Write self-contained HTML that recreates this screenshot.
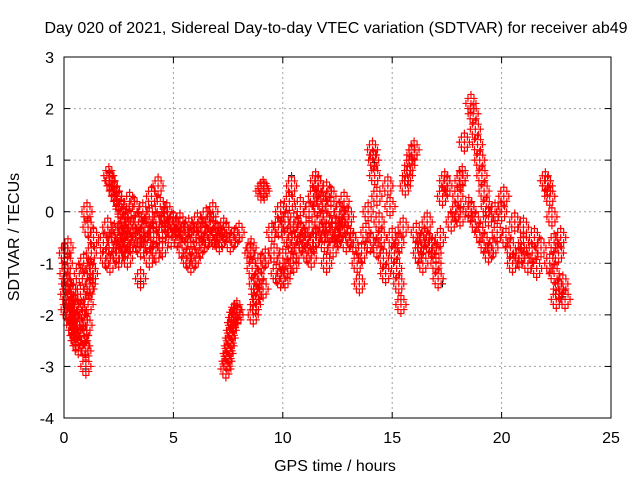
<!DOCTYPE html>
<html><head><meta charset="utf-8"><style>
html,body{margin:0;padding:0;background:#fff;}
svg{display:block;font-family:"Liberation Sans",sans-serif;}
</style></head><body>
<svg id="chart" width="640" height="480">
<text x="336" y="33" font-size="16" text-anchor="middle" fill="#000">Day 020 of 2021, Sidereal Day-to-day VTEC variation (SDTVAR) for receiver ab49</text>
<text x="335" y="471" font-size="16" text-anchor="middle">GPS time / hours</text>
<text transform="translate(19,237) rotate(-90)" font-size="16" text-anchor="middle">SDTVAR / TECUs</text>
<g id="grid"></g>
<g id="ticks"></g>
<g id="marks"></g>
<rect x="64" y="57" width="547" height="361" fill="none" stroke="#000" stroke-width="1"/>
</svg>
<script>
const xTicks=[0,5,10,15,20,25];
const yTicks=[3,2,1,0,-1,-2,-3,-4];
const times=[0.02,0.05,0.08,0.1,0.12,0.15,0.18,0.2,0.25,0.3,0.35,0.4,0.45,0.5,0.55,0.6,0.65,0.3,0.4,0.5,0.6,0.7,0.75,0.8,0.85,0.9,0.95,1.0,1.05,1.1,1.0,1.15,1.2,1.25,1.3,1.35,1.1,1.05,1.2,0.9,
1.8,1.9,2.0,2.05,2.1,2.2,2.3,2.4,2.5,2.6,2.7,2.8,2.9,2.2,2.4,2.6,2.8,3.0,2.1,2.3,2.5,2.7,2.9,3.0,
3.1,3.2,3.3,3.4,3.5,3.5,3.6,3.7,3.8,3.9,4.0,4.1,4.2,4.3,4.4,4.5,4.6,4.7,4.8,4.9,5.0,4.2,4.5,3.9,
5.1,5.3,5.5,5.7,5.9,6.1,6.3,6.5,6.7,6.8,5.2,5.4,5.6,5.8,6.0,6.2,6.4,6.6,6.8,7.0,7.2,7.4,7.6,7.8,8.0,7.3,7.1,
7.4,7.45,7.5,7.55,7.6,7.65,7.7,7.75,7.8,7.9,7.95,
8.5,8.6,8.7,8.8,8.9,9.0,9.1,8.65,8.75,8.55,9.0,9.1,9.15,9.2,
9.5,9.6,9.7,9.8,9.9,10.0,10.1,10.2,10.3,10.4,10.5,10.6,10.7,10.8,10.9,10.2,9.9,10.5,
11.0,11.2,11.4,11.6,11.8,12.0,12.2,12.4,12.6,12.8,13.0,11.1,11.3,11.5,11.7,11.9,12.1,12.3,12.5,12.7,12.9,11.5,12.0,
13.2,13.4,13.5,13.6,13.8,14.0,14.1,14.15,14.2,14.3,14.4,14.5,14.6,14.7,14.8,14.9,15.0,14.3,13.9,
15.1,15.2,15.3,15.4,15.3,15.5,15.6,15.7,15.8,15.9,16.0,16.1,16.2,16.3,16.4,16.5,16.6,16.8,17.0,17.1,17.2,17.3,17.4,17.5,
17.7,17.9,18.0,18.1,18.2,18.1,18.3,18.5,18.6,18.7,18.8,18.9,19.0,19.1,19.2,19.3,19.4,18.6,18.8,19.0,19.2,19.4,19.6,19.8,20.0,20.1,19.7,
20.2,20.4,20.6,20.8,21.0,21.2,21.4,21.6,21.8,22.0,22.1,22.2,22.3,22.4,22.5,22.6,22.7,22.8,22.9,22.6,22.4,22.2,20.5,21.0,
3.3,3.7,4.1,4.6,5.3,5.8,6.3,6.9,10.1,10.4,10.8,11.2,11.6,12.0,12.4,12.8,13.1,11.4,11.8,12.2,12.6,2.5,2.9,3.5,16.7,17.0,20.9,21.5];
const values=[-0.8,-1.2,-1.6,-1.9,-1.4,-1.0,-0.7,-1.7,-1.9,-2.0,-2.2,-2.1,-2.3,-2.4,-2.5,-2.3,-2.6,-1.5,-1.6,-1.8,-1.9,-1.2,-1.6,-1.9,-2.1,-2.4,-2.6,-2.7,-2.2,-1.8,-3.0,-1.5,-1.1,-0.8,-1.2,-0.5,-0.3,0.0,-1.4,-1.0,
-0.6,-0.9,-0.3,0.7,0.6,0.5,0.4,0.3,0.2,0.05,-0.1,-0.2,-0.3,-0.6,-0.8,-0.5,-0.7,-0.6,-1.0,-0.4,-0.9,-0.6,-0.9,0.2,
-0.3,0.1,-0.5,-0.2,-0.7,-1.3,0.0,-0.4,-0.6,-0.1,0.3,-0.5,-0.2,0.5,0.1,-0.4,-0.1,0.0,-0.3,-0.5,-0.2,-0.8,-0.7,-0.9,
-0.3,-0.2,-0.4,-0.3,-0.4,-0.2,-0.3,-0.1,-0.2,0.0,-0.5,-0.7,-0.9,-1.0,-0.9,-0.7,-0.6,-0.5,-0.5,-0.4,-0.5,-0.4,-0.6,-0.5,-0.4,-0.3,-0.6,
-3.05,-2.9,-2.75,-2.6,-2.45,-2.3,-2.15,-2.05,-1.95,-1.9,-2.0,
-0.8,-1.1,-1.4,-1.6,-1.3,-1.0,-1.5,-2.0,-1.8,-0.7,0.4,0.45,0.4,-0.9,
-0.4,-0.8,-1.2,-0.3,0.0,-0.9,-1.3,-0.5,0.2,0.5,-0.2,-0.8,-0.3,0.1,-0.6,-1.1,-1.3,-1.0,
-0.5,0.0,0.3,0.5,0.2,0.4,0.1,-0.3,0.0,0.2,-0.1,-0.8,-0.9,-0.5,-0.2,-0.6,-0.4,-0.7,-0.5,-0.3,-0.6,0.6,-1.0,
-0.6,-1.0,-1.4,-0.8,-0.4,-0.6,1.2,1.0,0.7,0.3,-0.2,-0.5,-0.9,-1.2,0.5,0.1,-0.5,-0.7,0.0,
-0.8,-1.1,-1.4,-1.8,-0.6,-0.3,0.5,0.7,0.9,1.1,1.2,-0.4,-0.8,-0.6,-1.0,-0.5,-0.2,-0.7,-1.0,-1.3,-0.5,0.3,0.6,0.5,
-0.2,0.0,0.3,0.6,0.7,-0.1,1.35,0.1,2.1,1.9,1.6,1.3,1.0,0.7,0.4,0.1,-0.1,0.0,-0.2,-0.4,-0.6,-0.8,-0.7,-0.4,0.0,0.3,0.0,
-0.5,-0.7,-0.2,-0.9,-0.6,-1.0,-0.8,-1.1,-0.7,0.6,0.5,0.3,-0.1,-1.2,-1.7,-0.8,-0.5,-1.4,-1.7,-1.5,-0.6,-1.0,-1.0,-0.3,
-0.6,-0.3,-0.4,-0.2,-0.3,-0.5,-0.4,-0.5,-0.2,-0.6,-0.4,-0.3,0.1,-0.2,-0.4,-0.1,-0.5,-0.6,-0.4,0.3,-0.4,-0.4,-0.5,-0.5,-0.6,-0.8,-0.8,-0.5];
const blackT=[0.05,1.0,2.1,3.5,10.4,14.1,14.2,15.4,17.3,22.8];
const blackV=[-0.7,-3.05,0.75,-1.35,0.7,1.2,0.95,-1.7,-1.4,-1.65];
const X0=64,X1=611,Y0=418,Y1=57;
function xs(t){return X0+(t-0)/(25-0)*(X1-X0);}
function ys(v){return Y0-(v-(-4))/(3-(-4))*(Y0-Y1);}
const NS='http://www.w3.org/2000/svg';
const grid=document.getElementById('grid'),ticks=document.getElementById('ticks'),marks=document.getElementById('marks');
function mk(tag,attrs,parent){const e=document.createElementNS(NS,tag);for(const k in attrs)e.setAttribute(k,attrs[k]);parent.appendChild(e);return e;}
xTicks.forEach(t=>{
  const x=xs(t);
  if(t>0&&t<25){const g=mk('line',{x1:x,x2:x,y1:Y1,y2:Y0,stroke:'#a0a0a0','stroke-dasharray':'2,3'},grid);
  
  }
  mk('line',{x1:x,x2:x,y1:Y0,y2:Y0-6,stroke:'#000'},ticks);
  mk('line',{x1:x,x2:x,y1:Y1,y2:Y1+6,stroke:'#000'},ticks);
  const l=mk('text',{x:x,y:Y0+25,'font-size':16,'text-anchor':'middle'},ticks);l.textContent=t;
  
  
});
yTicks.forEach(v=>{
  const y=ys(v);
  if(v>-4&&v<3){const g=mk('line',{x1:X0,x2:X1,y1:y,y2:y,stroke:'#a0a0a0','stroke-dasharray':'2,3'},grid);
  
  }
  mk('line',{x1:X0,x2:X0+6,y1:y,y2:y,stroke:'#000'},ticks);
  mk('line',{x1:X1,x2:X1-6,y1:y,y2:y,stroke:'#000'},ticks);
  const l=mk('text',{x:X0-10,y:y+6,'font-size':16,'text-anchor':'end'},ticks);l.textContent=v;
  
  
});
const offs=[[0,0],[-3,-5],[3,5],[-3,5],[3,-5],[0,-9],[0,9],[-5,0],[5,0]];
function plus(x,y){return `M${x-3.5},${y}h7M${x},${y-3.5}v7`;}
let dk='';
for(let i=0;i<blackT.length;i++){dk+=plus(xs(blackT[i]),ys(blackV[i]));}
const pk=mk('path',{d:dk,stroke:'#000','stroke-width':1,fill:'none'},marks);


let d='';
for(let i=0;i<times.length;i++){
  const x=xs(times[i]),y=ys(values[i]);
  offs.forEach(o=>{d+=plus(x+o[0],y+o[1]);});
}
const p=mk('path',{d:d,stroke:'#ff0000','stroke-width':1.2,fill:'none'},marks);


</script>
</body></html>
